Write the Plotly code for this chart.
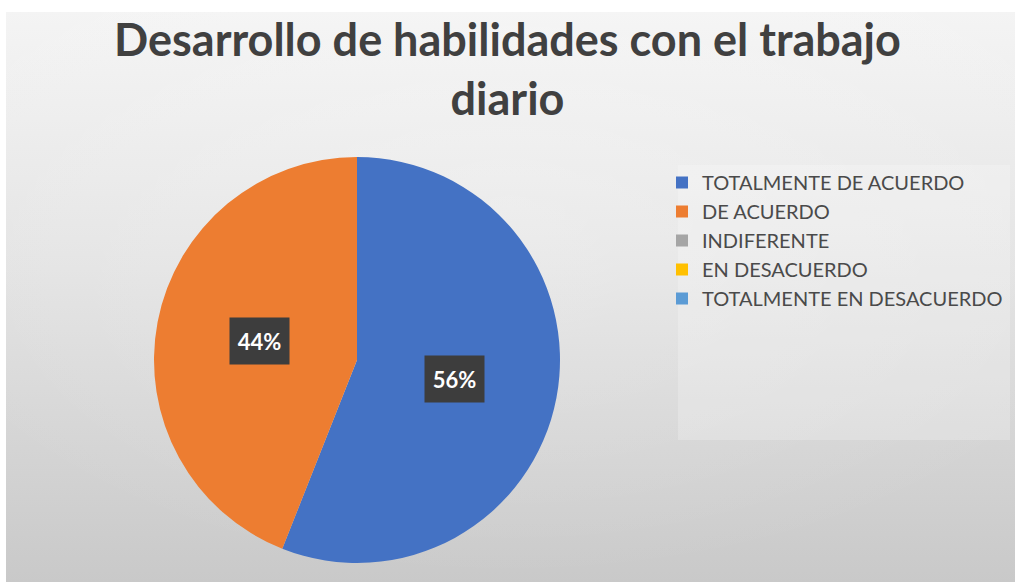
import base64
import math
import plotly.graph_objects as go

# ---- data ----
categories = ["TOTALMENTE DE ACUERDO", "DE ACUERDO", "INDIFERENTE",
              "EN DESACUERDO", "TOTALMENTE EN DESACUERDO"]
counts = [14, 11, 0, 0, 0]
colors = ["#4472C4", "#ED7D31", "#A5A5A5", "#FFC000", "#5B9BD5"]
title_text = "Desarrollo de habilidades con el trabajo<br>diario"

W, H = 1015, 582

# pie placement (pixels)
cx, cy, r = 357, 360, 203
dom_x = [(cx - r) / W, (cx + r) / W]
dom_y = [(H - cy - r) / H, (H - cy + r) / H]

fig = go.Figure()
fig.add_trace(go.Pie(
    labels=categories, values=counts, sort=False, direction="clockwise",
    rotation=0, marker=dict(colors=colors, line=dict(width=0)),
    textinfo="none", domain=dict(x=dom_x, y=dom_y), showlegend=True,
))

# percentage labels in dark boxes, placed at slice mid-angles
total = sum(counts)
cum = 0.0
annotations = []
for v in counts:
    if v <= 0:
        continue
    mid = (cum + v / 2) / total * 2 * math.pi  # clockwise from 12 o'clock
    cum += v
    dx = 0.49 * r * math.sin(mid)
    dy = 0.49 * r * math.cos(mid)
    annotations.append(dict(
        x=(cx + dx) / W, y=(H - cy + dy) / H, xref="paper", yref="paper",
        text="<b>%d%%</b>" % round(100 * v / total), showarrow=False,
        font=dict(family="Lato", size=22, color="white"),
        bgcolor="#3d3d3d", width=51, height=38, borderpad=4,
        xanchor="center", yanchor="middle",
    ))

# gradient background (SVG)
svg = f'''<svg xmlns="http://www.w3.org/2000/svg" width="1009" height="570" preserveAspectRatio="none">
<defs>
<linearGradient id="g" x1="0" y1="0" x2="0" y2="1">
<stop offset="0" stop-color="#f4f4f4"/>
<stop offset="0.45" stop-color="#e3e3e3"/>
<stop offset="1" stop-color="#c9c9c9"/>
</linearGradient>
<radialGradient id="r" cx="0.5" cy="0.35" r="0.65">
<stop offset="0" stop-color="#ffffff" stop-opacity="0.25"/>
<stop offset="1" stop-color="#ffffff" stop-opacity="0"/>
</radialGradient>
</defs>
<rect width="1009" height="570" fill="url(#g)"/>
<rect width="1009" height="570" fill="url(#r)"/>
</svg>'''
src = "data:image/svg+xml;base64," + base64.b64encode(svg.encode()).decode()

fig.update_layout(
    width=W, height=H, autosize=False,
    margin=dict(l=0, r=0, t=0, b=0),
    paper_bgcolor="white",
    title=dict(text="<b>" + title_text.replace("<br>", "</b><br><b>") + "</b>",
               x=0.5, xanchor="center", y=1 - 56 / H,
               yanchor="top", yref="container",
               font=dict(family="Lato", size=45, color="#404040")),
    legend=dict(x=662 / W, y=1 - 163 / H, xanchor="left", yanchor="top",
                font=dict(family="Lato", size=20, color="#4a4a4a"),
                bgcolor="rgba(0,0,0,0)", itemclick=False),
    images=[dict(source=src, xref="paper", yref="paper", x=6 / W, y=1 - 12 / H,
                 sizex=(W - 6) / W, sizey=(H - 12) / H, sizing="stretch",
                 xanchor="left", yanchor="top", layer="below")],
    shapes=[dict(type="rect", xref="paper", yref="paper",
                 x0=678 / W, x1=1010 / W, y0=1 - 440 / H, y1=1 - 165 / H,
                 fillcolor="rgba(255,255,255,0.22)", line=dict(width=0),
                 layer="below")],
    annotations=annotations,
)

fig.write_html("out.html")
